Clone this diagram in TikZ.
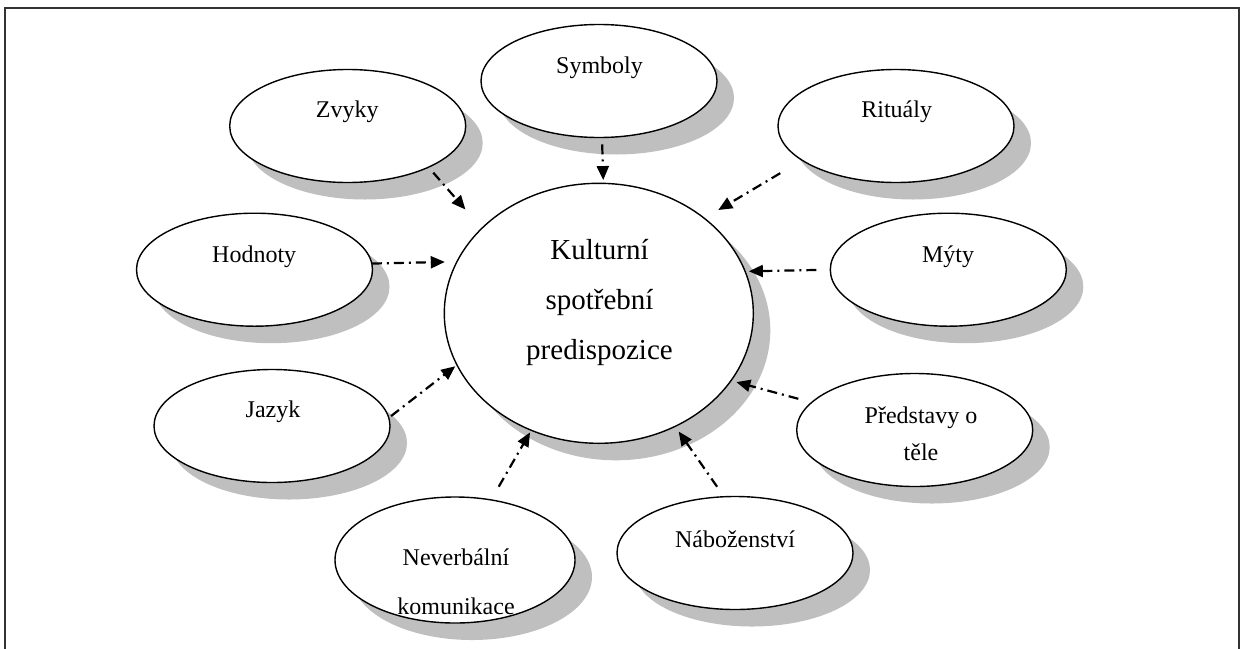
\documentclass[tikz,border=0pt]{standalone}
\usepackage{fontspec}
\setmainfont{Liberation Serif}
\usetikzlibrary{shapes.geometric,shadows,arrows.meta}
\begin{document}
\begin{tikzpicture}[x=0.5pt,y=-0.5pt,
  bub/.style={ellipse, draw, line width=0.7pt, fill=white, inner sep=0pt, outer sep=0pt,
    minimum width=118pt, minimum height=56.5pt,
    drop shadow={shadow xshift=8.5pt, shadow yshift=-8.5pt, fill=black!25, opacity=1}},
  bigbub/.style={bub, minimum width=154.5pt, minimum height=130pt},
  lbl/.style={font=\fontsize{12}{18.5}\selectfont, align=center, inner sep=0pt},
  biglbl/.style={font=\fontsize{14.5}{25}\selectfont, align=center, inner sep=0pt},
  arr/.style={line width=1.1pt, dash pattern=on 5pt off 2.5pt on 1pt off 2.5pt,
    -{Triangle[length=7pt,width=6pt]}}
]
\useasboundingbox (0,0) rectangle (1245,648);
\begin{scope}
\clip (0,0) rectangle (1245,648);
\draw[line width=0.8pt, black!80] (5,8) rectangle (1238.7,700);
\end{scope}

\node[bigbub] (kp) at (598.8,313.3) {};
\node[bub] (symboly) at (599,81) {};
\node[bub] (zvyky) at (347.7,126) {};
\node[bub] (ritualy) at (896,126) {};
\node[bub] (hodnoty) at (254.5,269.7) {};
\node[bub] (myty) at (948.3,269.7) {};
\node[bub] (jazyk) at (272,426) {};
\node[bub] (predstavy) at (914.7,430) {};
\node[bub, minimum width=120pt, minimum height=63pt] (never) at (455,560) {};
\node[bub] (nabozenstvi) at (735,553) {};

\node[biglbl] (kpt) at (599.5,302.7) {Kulturní\\spotřební\\predispozice};
\node[lbl] (symbolyt) at (599.5,67.5) {Symboly};
\node[lbl] (zvykyt) at (347.2,111.7) {Zvyky};
\node[lbl] (ritualyt) at (896.7,111.7) {Rituály};
\node[lbl] (hodnotyt) at (254.2,257) {Hodnoty};
\node[lbl] (mytyt) at (948,256.3) {Mýty};
\node[lbl] (jazykt) at (273,412) {Jazyk};
\node[lbl] (predstavyt) at (921,433.5) {Představy o\\těle};
\node[lbl] (nevert) at (456,582) {Neverbální\\[6pt]komunikace};
\node[lbl] (nabozenstvit) at (735,539) {Náboženství};

\draw[arr, shorten <=3.6pt, shorten >=12.5pt] (zvyky.-27.9) -- (kp.144.7);
\draw[arr, shorten >=6.1pt] (hodnoty.3.1) -- (kp.160.7);
\draw[arr, shorten <=3.5pt, shorten >=1.65pt] (symboly.-87.2) -- (kp.88.7);
\draw[arr, shorten <=12.7pt, shorten >=8.15pt] (ritualy.200.75) -- (kp.42.6);
\draw[arr, shorten <=7pt, shorten >=1.9pt] (myty.180) -- (kp.16.55);
\draw[arr, shorten <=1.45pt, shorten >=1.1pt] (jazyk.4.6) -- (kp.200.6);
\draw[arr, shorten <=7.65pt, shorten >=1.25pt] (never.59.5) -- (kp.240.3);
\draw[arr, shorten <=6.95pt, shorten >=2.8pt] (predstavy.165.9) -- (kp.-27.25);
\draw[arr, shorten <=6.1pt, shorten >=3.15pt] (nabozenstvi.101.5) -- (kp.-56.2);
\end{tikzpicture}
\end{document}
